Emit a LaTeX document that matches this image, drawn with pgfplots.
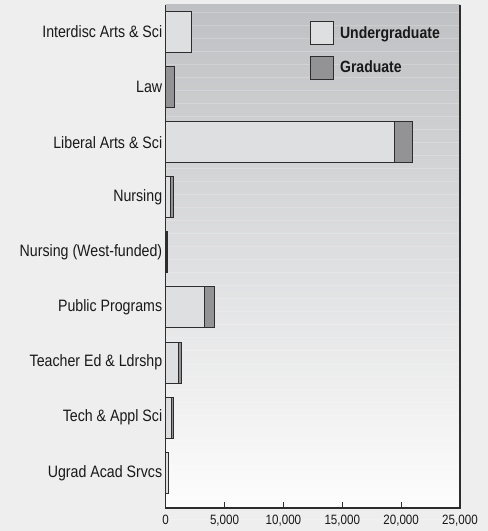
\documentclass[border=0pt]{standalone}
\usepackage{pgfplots}
\pgfplotsset{compat=1.18}
\usepackage{fontspec}
\setmainfont{Liberation Sans}[FakeStretch=0.86]
\definecolor{pagebg}{RGB}{238,238,238}
\definecolor{gtop}{RGB}{191,192,195}
\definecolor{gbot}{RGB}{253,253,253}
\definecolor{ugfill}{RGB}{222,223,225}
\definecolor{grfill}{RGB}{147,147,150}
\definecolor{edge}{RGB}{45,45,45}
\begin{document}
\begin{tikzpicture}
\path[use as bounding box, fill=pagebg] (0bp,0bp) rectangle (488bp,531bp);
\fill[top color=gtop, bottom color=gbot] (165.7bp,23bp) rectangle (460bp,526bp);
\foreach \yy in {12,25,...,520}{
  \draw[white, opacity=0.2, line width=0.6bp] (166bp,531bp-\yy bp) -- (459.5bp,531bp-\yy bp);
}
\begin{axis}[
  at={(165.7bp,23bp)}, anchor=south west,
  scale only axis, width=294.3bp, height=503bp,
  xbar stacked, bar width=41bp,
  xmin=0, xmax=25000, ymin=-0.49, ymax=8.64,
  y dir=reverse,
  ytick={0,...,8},
  yticklabels={Interdisc Arts \& Sci, Law, Liberal Arts \& Sci, Nursing, Nursing (West-funded), Public Programs, Teacher Ed \& Ldrshp, Tech \& Appl Sci, Ugrad Acad Srvcs},
  ytick style={draw=none},
  yticklabel style={font=\fontsize{16.5bp}{19bp}\selectfont, text=black!90},
  xtick={0,5000,...,25000},
  xtick pos=bottom, tick align=inside, major tick length=6bp,
  xtick style={edge, line width=1bp},
  scaled x ticks=false,
  xticklabel style={font=\fontsize{13.5bp}{15bp}\selectfont, text=black!90, yshift=-4bp, /pgf/number format/1000 sep={,}, /pgf/number format/assume math mode=true},
  axis line style={draw=none},
  legend style={draw=none, fill=none, at={(rel axis cs:0.49,0.968)}, anchor=north west, inner sep=0pt, row sep=10.5bp,
    font=\fontsize{16.3bp}{18bp}\selectfont\bfseries, text=black!90},
  legend cell align=left,
]
\addplot[fill=ugfill, draw=edge, line width=1bp,
  legend image code/.code={\draw[fill=ugfill, draw=edge, line width=1bp] (0bp,-11.5bp) rectangle (23bp,11.5bp);}]
  coordinates {(2150,0) (0,1) (19420,2) (450,3) (80,4) (3280,5) (1070,6) (480,7) (280,8)};
\addplot[fill=grfill, draw=edge, line width=1bp,
  legend image code/.code={\draw[fill=grfill, draw=edge, line width=1bp] (0bp,-11.5bp) rectangle (23bp,11.5bp);}]
  coordinates {(0,0) (730,1) (1530,2) (200,3) (40,4) (850,5) (290,6) (220,7) (0,8)};
\legend{\hspace{4bp}Undergraduate, \hspace{4bp}Graduate}
\end{axis}
\draw[edge, line width=1.3bp] (165.7bp,526bp) -- (165.7bp,23bp) -- (460bp,23bp) -- (460bp,526bp);
\end{tikzpicture}
\end{document}
